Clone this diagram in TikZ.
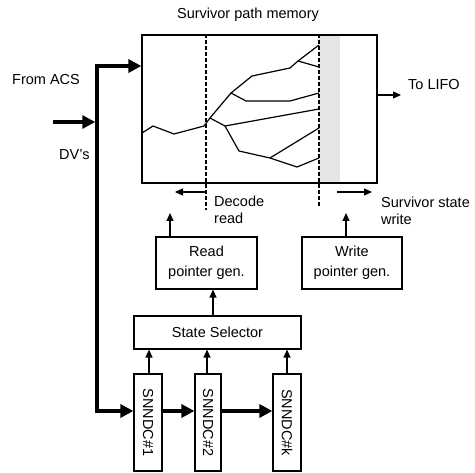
\documentclass[tikz,border=0pt]{standalone}
\usepackage{fontspec}
\setmainfont{Liberation Sans}
\usetikzlibrary{arrows.meta,calc}
\begin{document}
\begin{tikzpicture}[x=1pt,y=-1pt,
  box/.style={draw,line width=1.2pt,inner sep=0pt,align=center,font=\fontsize{14.5}{20}\selectfont},
  lbl/.style={inner sep=0pt,font=\fontsize{14.5}{20}\selectfont},
  bigarrow/.style={line width=3.5pt,-{Triangle[length=13pt,width=13pt]}},
  bigline/.style={line width=3.5pt},
  smallarrow/.style={line width=1.2pt,-{Triangle[length=8pt,width=7pt]}},
  pathline/.style={line width=1.2pt,line join=round},
  dline/.style={line width=1.2pt,dash pattern=on 4pt off 2pt}]
\useasboundingbox (0,0) rectangle (475,473);
% shaded write region
\fill[black!10] (319,35) rectangle (340,183);
% memory box
\node[box,minimum width=235pt,minimum height=148pt] (mem) at (259.5,109) {};
% dashed lines
\coordinate (dl) at (206,210);
\coordinate (dr) at (319,208);
\draw[dline] (mem.north -| dl) -- (dl);
\draw[dline] (mem.north -| dr) -- (dr);
% survivor paths
\draw[pathline] (142,133) -- (153,126) -- (174,134) -- (204,126) -- (210,118) -- (231,93) -- (252,76) -- (290,68) -- (298,61) -- (319,45);
\draw[pathline] (298,61) -- (319,67);
\draw[pathline] (231,93) -- (246,101) -- (290,101) -- (319,93);
\draw[pathline] (210,118) -- (225,126) -- (319,109);
\draw[pathline] (225,126) -- (239,151) -- (270,158) -- (297,167) -- (319,158);
\draw[pathline] (270,158) -- (319,128);
% labels
\node[lbl] (title) at (248,15) {Survivor path memory};
\node[lbl,anchor=west] (acs) at (12,80) {From ACS};
\node[lbl,anchor=west] (dv) at (59,155) {DV's};
\node[lbl,anchor=west] (lifo) at (408,85) {To LIFO};
\node[lbl,anchor=north west,align=left] (dec) at (214,196) {Decode\\[-3pt]read};
\node[lbl,anchor=north west,align=left] (sur) at (381,197) {Survivor state\\[-3pt]write};
% read / write arrows under box
\coordinate (la) at (205,192);
\coordinate (ra) at (337,192);
\draw[smallarrow] (la) -- ++(-30,0);
\draw[smallarrow] (ra) -- ++(35,0);
% output
\coordinate (lifoend) at (401,95);
\draw[smallarrow] (mem.east |- lifoend) -- (lifoend);
% boxes
\node[box,minimum width=101pt,minimum height=52pt] (rp) at (206.5,263) {Read\\pointer gen.};
\node[box,minimum width=100pt,minimum height=52pt] (wp) at (352,263) {Write\\pointer gen.};
\node[box,minimum width=167pt,minimum height=33pt] (ss) at (217.5,332.5) {State Selector};
\node[box,minimum width=28pt,minimum height=97pt] (s1) at (148,422.5) {};
\node[box,minimum width=26pt,minimum height=97pt] (s2) at (208,422.5) {};
\node[box,minimum width=28pt,minimum height=97pt] (sk) at (287,422.5) {};
\node[lbl,rotate=-90] at (s1) {SNNDC\#1};
\node[lbl,rotate=-90] at (s2) {SNNDC\#2};
\node[lbl,rotate=-90] at (sk) {SNNDC\#k};
% thin arrows
\coordinate (rpup) at (170,213);
\coordinate (wpup) at (346,213);
\draw[smallarrow] (rp.north -| rpup) -- (rpup);
\draw[smallarrow] (wp.north -| wpup) -- (wpup);
\draw[smallarrow] ([xshift=-4.5pt]ss.north) -- ([xshift=-4.5pt]ss.north |- rp.south);
\draw[smallarrow] ([xshift=1pt]s1.north) -- ([xshift=1pt]s1.north |- ss.south);
\draw[smallarrow] ([xshift=-1pt]s2.north) -- ([xshift=-1pt]s2.north |- ss.south);
\draw[smallarrow] (sk.north) -- (sk.north |- ss.south);
% bus
\coordinate (bust) at (97,66);
\coordinate (busb) at (97,411);
\coordinate (dvin) at (53,122);
\draw[bigline] (busb) -- (bust);
\draw[bigarrow] ([xshift=-1.75pt]bust) -- (bust -| mem.west);
\draw[bigarrow] ([xshift=-1.75pt]busb) -- (busb -| s1.west);
\draw[bigarrow,shorten >=1.75pt] (dvin) -- (dvin -| bust);
\draw[bigarrow] (busb -| s1.east) -- (busb -| s2.west);
\draw[bigarrow] (busb -| s2.east) -- (busb -| sk.west);
\end{tikzpicture}
\end{document}
